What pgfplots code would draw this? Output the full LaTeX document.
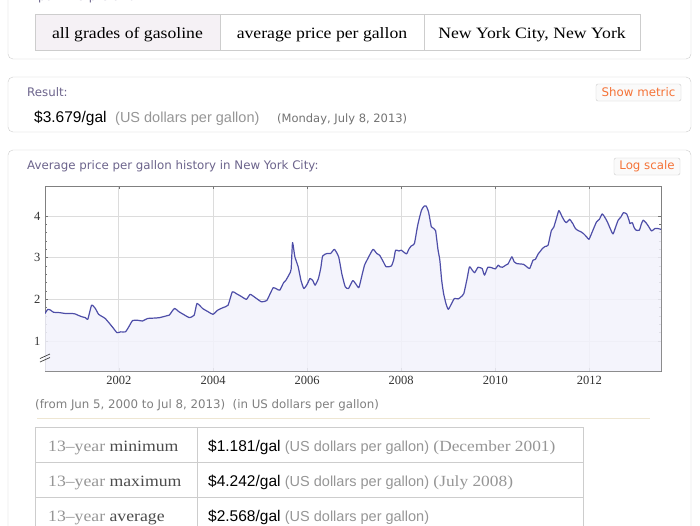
\documentclass[border=0pt]{standalone}
\usepackage{fontspec}
\setmainfont{Liberation Serif}
\newfontfamily\wserif[FakeStretch=1.12,Ligatures=TeX]{Liberation Serif}
\newfontfamily\dvs{DejaVu Sans}
\newfontfamily\lsans{Liberation Sans}
\usepackage{pgfplots}
\pgfplotsset{compat=1.18}
\definecolor{boxgray}{RGB}{205,205,205}
\definecolor{titlecol}{RGB}{108,100,140}
\definecolor{orangecol}{RGB}{245,115,55}
\definecolor{linecol}{RGB}{78,78,168}
\definecolor{fillcol}{RGB}{243,243,252}
\definecolor{gridcol}{RGB}{220,220,220}
\definecolor{graytext}{RGB}{150,150,150}
\definecolor{cellfill}{RGB}{245,241,245}
\definecolor{sepcol}{RGB}{238,230,210}
\pgfplotstableread{
year price
2000.43 1.66
2000.49 1.76
2000.55 1.74
2000.61 1.69
2000.75 1.68
2000.86 1.66
2001.00 1.66
2001.07 1.65
2001.15 1.61
2001.22 1.58
2001.29 1.56
2001.34 1.52
2001.42 1.86
2001.50 1.78
2001.57 1.64
2001.71 1.54
2001.86 1.34
2001.96 1.20
2002.04 1.22
2002.14 1.22
2002.21 1.34
2002.29 1.49
2002.39 1.50
2002.50 1.48
2002.61 1.54
2002.75 1.55
2002.86 1.56
2003.00 1.60
2003.07 1.62
2003.18 1.78
2003.28 1.70
2003.40 1.62
2003.50 1.56
2003.60 1.62
2003.66 1.90
2003.78 1.78
2003.90 1.70
2004.00 1.64
2004.10 1.74
2004.21 1.80
2004.32 1.86
2004.41 2.18
2004.49 2.14
2004.60 2.07
2004.71 2.00
2004.79 2.12
2004.90 2.04
2005.03 1.94
2005.14 1.97
2005.20 2.10
2005.28 2.28
2005.35 2.25
2005.42 2.22
2005.50 2.40
2005.55 2.46
2005.62 2.60
2005.66 2.72
2005.69 3.36
2005.74 3.02
2005.81 2.78
2005.87 2.45
2005.93 2.26
2006.00 2.36
2006.06 2.50
2006.12 2.45
2006.17 2.34
2006.24 2.50
2006.29 2.75
2006.33 3.04
2006.42 3.10
2006.50 3.10
2006.58 3.20
2006.67 3.02
2006.74 2.60
2006.81 2.30
2006.88 2.26
2006.97 2.45
2007.04 2.36
2007.10 2.28
2007.16 2.55
2007.22 2.82
2007.30 3.00
2007.40 3.20
2007.48 3.10
2007.54 3.06
2007.62 2.90
2007.68 2.78
2007.79 2.80
2007.84 2.95
2007.88 3.18
2007.95 3.16
2008.00 3.18
2008.11 3.09
2008.16 3.20
2008.21 3.28
2008.28 3.34
2008.35 3.78
2008.43 4.14
2008.49 4.24
2008.53 4.24
2008.58 4.10
2008.64 3.74
2008.69 3.70
2008.73 3.65
2008.78 3.20
2008.82 2.94
2008.86 2.45
2008.90 2.14
2008.95 1.90
2009.00 1.76
2009.07 1.90
2009.13 2.02
2009.21 2.01
2009.27 2.06
2009.33 2.14
2009.40 2.50
2009.45 2.78
2009.51 2.70
2009.56 2.64
2009.63 2.77
2009.68 2.76
2009.72 2.74
2009.77 2.58
2009.84 2.77
2009.92 2.76
2010.00 2.73
2010.06 2.82
2010.10 2.78
2010.15 2.77
2010.22 2.82
2010.27 2.85
2010.35 3.02
2010.40 2.90
2010.45 2.86
2010.52 2.85
2010.60 2.84
2010.67 2.78
2010.73 2.74
2010.80 2.94
2010.85 2.96
2010.91 3.09
2010.96 3.16
2011.00 3.22
2011.06 3.27
2011.12 3.30
2011.19 3.65
2011.24 3.73
2011.30 3.95
2011.35 4.13
2011.42 3.98
2011.47 3.88
2011.51 3.84
2011.58 3.92
2011.62 3.86
2011.65 3.81
2011.70 3.70
2011.76 3.65
2011.82 3.62
2011.87 3.58
2011.94 3.50
2011.99 3.44
2012.07 3.65
2012.15 3.86
2012.21 3.92
2012.27 4.05
2012.32 3.98
2012.38 3.86
2012.44 3.70
2012.50 3.57
2012.56 3.75
2012.61 3.90
2012.67 3.98
2012.72 4.08
2012.79 4.05
2012.84 3.90
2012.86 3.82
2012.91 3.84
2012.95 3.72
2012.99 3.66
2013.06 3.66
2013.10 3.80
2013.14 3.90
2013.20 3.84
2013.25 3.76
2013.32 3.64
2013.39 3.70
2013.45 3.70
2013.52 3.68
}\pricedata
\begin{document}
\begin{tikzpicture}
\path[use as bounding box] (0pt,0pt) rectangle (700pt,-525pt);
\clip (0pt,0pt) rectangle (700pt,-525pt);
\fill[white] (0pt,0pt) rectangle (700pt,-525pt);
\begin{scope}[x=1pt,y=1pt]
% ---------- input interpretation box
\draw[boxgray, rounded corners=5pt] (8,12) rectangle (691,-59);
\node[anchor=base west, text=titlecol, inner sep=0pt] at (27,-0.5) {\dvs\fontsize{11.8}{13}\selectfont Input interpretation:};
\fill[cellfill] (35,-14) rectangle (220,-50);
\draw[boxgray] (35,-14) rectangle (640,-50);
\draw[boxgray] (220,-14) -- (220,-50);
\draw[boxgray] (424,-14) -- (424,-50);
\node[anchor=base, inner sep=0pt] at (127.5,-38) {\wserif\fontsize{15.8}{18}\selectfont all grades of gasoline};
\node[anchor=base, inner sep=0pt] at (322,-38) {\wserif\fontsize{15.8}{18}\selectfont average price per gallon};
\node[anchor=base, inner sep=0pt] at (532,-38) {\wserif\fontsize{15.8}{18}\selectfont New York City, New York};
% ---------- result box
\draw[boxgray, rounded corners=5pt] (8,-77) rectangle (691,-132);
\node[anchor=base west, text=titlecol, inner sep=0pt] at (27,-96) {\dvs\fontsize{11.8}{13}\selectfont Result:};
\draw[boxgray, fill=black!2, rounded corners=2pt] (596,-84) rectangle (681,-101);
\node[text=orangecol, inner sep=0pt] at (638.5,-92.5) {\dvs\fontsize{11.8}{13}\selectfont Show metric};
\node[anchor=base west, inner sep=0pt] at (34,-122) {\lsans\fontsize{15.5}{17}\selectfont \$3.679/gal};
\node[anchor=base west, inner sep=0pt, text=graytext] at (115,-122) {\lsans\fontsize{14.5}{16}\selectfont (US dollars per gallon)};
\node[anchor=base west, inner sep=0pt, text=black!55] at (277,-122) {\dvs\fontsize{11.5}{13}\selectfont (Monday, July 8, 2013)};
% ---------- chart box
\draw[boxgray, rounded corners=5pt] (8,-150) rectangle (691,-560);
\node[anchor=base west, text=titlecol, inner sep=0pt] at (27,-169) {\dvs\fontsize{11.8}{13}\selectfont Average price per gallon history in New York City:};
\draw[boxgray, fill=black!2, rounded corners=2pt] (614,-158) rectangle (680,-175);
\node[text=orangecol, inner sep=0pt] at (647,-166.5) {\dvs\fontsize{11.8}{13}\selectfont Log scale};
\end{scope}
\begin{axis}[
  at={(45pt,-371pt)}, anchor=south west,
  scale only axis, width=616pt, height=185pt,
  xmin=2000.43, xmax=2013.52, ymin=0.28, ymax=4.72,
  xtick={2002,2004,...,2012}, ytick={1,2,3,4},
  minor x tick num=3, minor y tick num=4,
  tick align=inside,
  major tick length=3pt, minor tick length=2pt,
  tick style={black!55, line width=0.5pt},
  grid=major,
  major grid style={gridcol, line width=1pt},
  axis line style={black!50, line width=0.7pt},
  /pgf/number format/1000 sep={},
  /pgf/number format/assume math mode=true,
  tick label style={font=\fontsize{12.5}{13}\selectfont, text=black!80},
  xticklabel style={yshift=-2pt},
  yticklabel style={xshift=-1pt},
]
\addplot[draw=none, fill=fillcol, fill opacity=0.85] table[x=year,y=price]{\pricedata} \closedcycle;
\addplot[linecol, line width=1.2pt, line join=round, smooth, tension=0.3] table[x=year,y=price]{\pricedata};
\end{axis}
\begin{scope}[x=1pt,y=1pt]
% axis break mark
\draw[black!75, line width=0.7pt] (40,-358.5) -- (50,-354);
\draw[black!75, line width=0.7pt] (40,-362) -- (50,-357.5);
% caption under chart
\node[anchor=base west, inner sep=0pt, text=black!50] at (35,-408) {\dvs\fontsize{11.8}{13}\selectfont (from Jun 5, 2000 to Jul 8, 2013)\ \ (in US dollars per gallon)};
\draw[sepcol, line width=0.8pt] (37,-418) -- (650,-418);
% ---------- table
\draw[boxgray, line width=0.8pt] (35,-427) rectangle (583,-560);
\draw[boxgray, line width=0.8pt] (35,-462) -- (583,-462);
\draw[boxgray, line width=0.8pt] (35,-497) -- (583,-497);
\draw[boxgray, line width=0.8pt] (35,-532) -- (583,-532);
\draw[boxgray, line width=0.8pt] (197,-427) -- (197,-560);
\node[anchor=base west, inner sep=0pt] at (48,-451) {\wserif\fontsize{15.8}{18}\selectfont\textcolor{graytext}{13–year} \textcolor{black!70}{minimum}};
\node[anchor=base west, inner sep=0pt] at (48,-486) {\wserif\fontsize{15.8}{18}\selectfont\textcolor{graytext}{13–year} \textcolor{black!70}{maximum}};
\node[anchor=base west, inner sep=0pt] at (48,-521) {\wserif\fontsize{15.8}{18}\selectfont\textcolor{graytext}{13–year} \textcolor{black!70}{average}};
\node[anchor=base west, inner sep=0pt] at (208,-451) {\lsans\fontsize{15.5}{17}\selectfont \$1.181/gal\ \textcolor{graytext}{\fontsize{14.5}{16}\selectfont (US dollars per gallon)} \textcolor{graytext}{\wserif\fontsize{15.5}{17}\selectfont (December 2001)}};
\node[anchor=base west, inner sep=0pt] at (208,-486) {\lsans\fontsize{15.5}{17}\selectfont \$4.242/gal\ \textcolor{graytext}{\fontsize{14.5}{16}\selectfont (US dollars per gallon)} \textcolor{graytext}{\wserif\fontsize{15.5}{17}\selectfont (July 2008)}};
\node[anchor=base west, inner sep=0pt] at (208,-521) {\lsans\fontsize{15.5}{17}\selectfont \$2.568/gal\ \textcolor{graytext}{\fontsize{14.5}{16}\selectfont (US dollars per gallon)}};
\end{scope}
\end{tikzpicture}
\end{document}
